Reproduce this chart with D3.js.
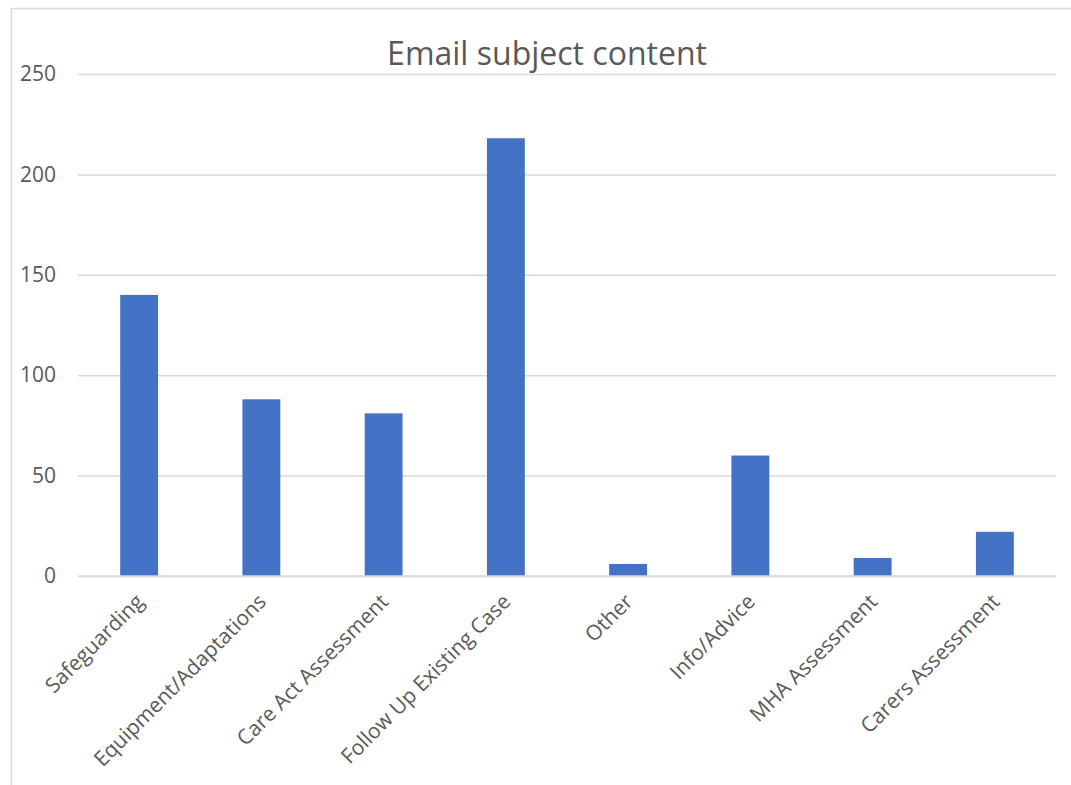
<!DOCTYPE html>
<html>
<head>
<meta charset="utf-8">
<script src="https://cdn.jsdelivr.net/npm/d3@7"></script>
<style>
  body { margin: 0; background: #fff; }
  svg { display: block; font-family: "Open Sans", "Noto Sans", sans-serif; }
</style>
</head>
<body>
<div id="chart"></div>
<script>
const categories = ["Safeguarding", "Equipment/Adaptations", "Care Act Assessment",
    "Follow Up Existing Case", "Other", "Info/Advice", "MHA Assessment", "Carers Assessment"];
const counts = [140, 88, 81, 218, 6, 60, 9, 22];
const yTicks = [0, 50, 100, 150, 200, 250];
const chartTitle = "Email subject content";

const size = {width: 1071, height: 785};
const margin = {top: 74, right: 15, bottom: 209, left: 78};
const width = size.width - margin.left - margin.right;
const height = size.height - margin.top - margin.bottom;

const svg = d3.select("#chart").append("svg")
    .attr("width", size.width)
    .attr("height", size.height);

// chart area border (cut off at right/bottom like the screenshot)
svg.append("rect")
    .attr("x", 11.5).attr("y", 8.5)
    .attr("width", 1080).attr("height", 800)
    .attr("fill", "none")
    .attr("stroke", "#d9d9d9")
    .attr("stroke-width", 1.5);

svg.append("text")
    .attr("x", 547)
    .attr("y", 65)
    .attr("text-anchor", "middle")
    .attr("fill", "#595959")
    .style("font-size", "32px")
    .text(chartTitle);

const g = svg.append("g")
    .attr("transform", "translate(" + margin.left + "," + margin.top + ")");

const xScale = d3.scaleBand()
    .domain(categories)
    .range([0, width])
    .paddingInner(0.69)
    .paddingOuter(0.345);

const yScale = d3.scaleLinear()
    .domain([0, 250])
    .range([height, 0]);

// gridlines
g.append("g")
    .attr("class", "yAxisG")
    .call(d3.axisLeft(yScale).tickValues(yTicks).tickSize(-width).tickPadding(22))
    .call(ax => ax.select(".domain").remove())
    .call(ax => ax.selectAll("line").attr("stroke", "#d9d9d9").attr("stroke-width", 1.5))
    .call(ax => ax.selectAll("text")
        .attr("fill", "#595959")
        .style("font-size", "21px")
        .style("font-family", "'Open Sans', sans-serif"));

g.selectAll(".barRect")
    .data(counts)
    .join("rect")
    .attr("class", "barRect")
    .attr("fill", "#4472c4")
    .attr("x", (d, i) => xScale(categories[i]))
    .attr("y", d => yScale(d))
    .attr("width", xScale.bandwidth())
    .attr("height", d => yScale(0) - yScale(d));

// x axis
g.append("g")
    .attr("class", "xAxisG")
    .attr("transform", "translate(0," + height + ")")
    .call(d3.axisBottom(xScale).tickSize(0).tickPadding(0))
    .call(ax => ax.select(".domain").attr("stroke", "#d9d9d9").attr("stroke-width", 1.5)
        .attr("d", "M0,0H" + width))
    .call(ax => ax.selectAll("text")
        .attr("fill", "#595959")
        .style("font-size", "21px")
        .style("font-family", "'Open Sans', sans-serif")
        .style("text-anchor", "end")
        .attr("dy", "0")
        .attr("y", 0)
        .attr("transform", "translate(6,27) rotate(-45)"));
</script>
</body>
</html>
